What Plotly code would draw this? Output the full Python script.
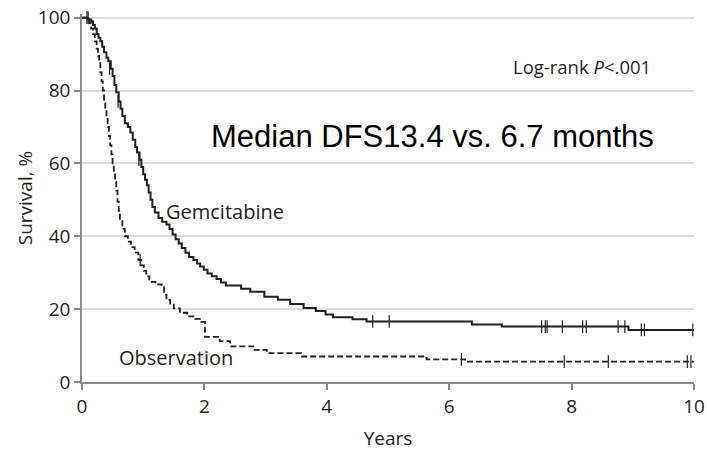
import plotly.graph_objects as go

# ---- data ----
gem_t = [0, 0.1, 0.15, 0.18, 0.21, 0.24, 0.27, 0.3, 0.33, 0.36, 0.4, 0.43, 0.47, 0.5, 0.53, 0.56,
         0.6, 0.63, 0.66, 0.7, 0.75, 0.79, 0.83, 0.87, 0.9, 0.94, 0.97, 1.0, 1.03, 1.06, 1.09, 1.12,
         1.15, 1.19, 1.25, 1.31, 1.38, 1.43, 1.48, 1.53, 1.58, 1.63, 1.69, 1.75, 1.82, 1.88, 1.93,
         1.99, 2.05, 2.12, 2.2, 2.27, 2.35, 2.6, 2.75, 2.98, 3.2, 3.4, 3.62, 3.82, 3.98, 4.1, 4.42,
         4.65, 6.37, 6.86, 8.93, 10.0]
gem_s = [100, 99.5, 99, 98, 97, 95.5, 94.5, 93.5, 92, 90.5, 89, 88, 86, 84, 81.5, 79.5,
         77, 75, 73, 71, 70, 68.5, 66.5, 64.5, 63, 61, 59, 57, 55.5, 54, 52, 50,
         48, 46.5, 45, 44, 43.2, 42, 40.5, 39.2, 38, 36.8, 35.5, 34.3, 33.5, 32.5, 31.7,
         30.8, 29.8, 29, 28.3, 27.3, 26.5, 25.6, 24.8, 23.4, 22.6, 21.4, 20.3, 19.5, 18.5, 17.8, 17.2,
         16.6, 15.8, 15.2, 14.3, 14.3]
gem_cens_t = [0.08, 0.45, 0.59, 0.93, 4.75, 5.02, 7.51, 7.57, 7.6, 7.85, 8.18, 8.24, 8.76, 8.87,
              9.14, 9.19, 9.98]
gem_cens_s = [100, 86, 77, 61, 16.6, 16.6, 15.2, 15.2, 15.2, 15.2, 15.2, 15.2, 15.2, 15.2,
              14.3, 14.3, 14.3]

obs_t = [0, 0.08, 0.12, 0.15, 0.18, 0.21, 0.24, 0.26, 0.28, 0.30, 0.32, 0.34, 0.36, 0.38, 0.40,
         0.42, 0.44, 0.46, 0.48, 0.5, 0.52, 0.54, 0.56, 0.58, 0.6, 0.62, 0.66, 0.7, 0.75, 0.8, 0.86,
         0.92, 0.97, 1.01, 1.05, 1.1, 1.2, 1.3, 1.34, 1.38, 1.44, 1.5, 1.6, 1.72, 1.85, 1.95, 2.01,
         2.25, 2.42, 2.8, 3.02, 3.58, 5.63, 6.26, 10.0]
obs_s = [100, 99.5, 98.5, 97, 95.5, 93.5, 91.5, 89.5, 87.5, 85, 82.5, 80, 77.5, 75, 72.5,
         70, 67.5, 65, 62.5, 60, 57.5, 55, 52.5, 49.5, 47, 44.5, 42, 40, 38.5, 37, 35.5,
         33.5, 32, 30.5, 29, 27.5, 26.8, 26, 24, 22.5, 21.2, 20.2, 19, 18, 17.3, 16.5, 12.4,
         11.2, 9.8, 8.8, 7.9, 7.0, 6.2, 5.6, 5.6]
obs_cens_t = [0.1, 0.95, 6.2, 7.88, 8.6, 9.89, 9.95]
obs_cens_s = [100, 33.5, 6.2, 5.6, 5.6, 5.6, 5.6]

x_ticks = [0, 2, 4, 6, 8, 10]
y_ticks = [0, 20, 40, 60, 80, 100]

INK = "#231f20"
FONT = "Open Sans"

fig = go.Figure()
fig.add_trace(go.Scatter(x=gem_t, y=gem_s, mode="lines", line_shape="hv",
                         line=dict(color=INK, width=2), showlegend=False))
fig.add_trace(go.Scatter(x=obs_t, y=obs_s, mode="lines", line_shape="hv",
                         line=dict(color=INK, width=1.8, dash="6px,3px"), showlegend=False))
fig.add_trace(go.Scatter(x=gem_cens_t, y=gem_cens_s, mode="markers", cliponaxis=False,
                         marker=dict(symbol="line-ns-open", size=9, color=INK,
                                     line=dict(color=INK, width=1.2)),
                         showlegend=False))
fig.add_trace(go.Scatter(x=obs_cens_t, y=obs_cens_s, mode="markers", cliponaxis=False,
                         marker=dict(symbol="line-ns-open", size=9, color=INK,
                                     line=dict(color=INK, width=1.2)),
                         showlegend=False))

fig.add_annotation(x=8.17, y=86.7, text="Log-rank <i>P</i><.001", showarrow=False,
                   font=dict(family=FONT, size=18.5, color=INK))
fig.add_annotation(x=5.72, y=67.3, text="Median DFS13.4 vs. 6.7 months", showarrow=False,
                   font=dict(family="Liberation Sans, Arial", size=31, color="#000000"))
fig.add_annotation(x=2.34, y=46.8, text="Gemcitabine", showarrow=False,
                   font=dict(family=FONT, size=20, color=INK))
fig.add_annotation(x=1.54, y=6.8, text="Observation", showarrow=False,
                   font=dict(family=FONT, size=20, color=INK))

fig.update_xaxes(range=[0, 10], tickvals=x_ticks, ticktext=[str(v) for v in x_ticks],
                 automargin=False,
                 showgrid=False, zeroline=False, showline=True, linecolor="#8a8a8a", linewidth=1.5,
                 ticks="outside", ticklen=6, tickcolor="#8a8a8a", tickwidth=1.5,
                 tickfont=dict(family=FONT, size=19, color=INK),
                 title=dict(text="Years", font=dict(family=FONT, size=19, color=INK), standoff=15))
fig.update_yaxes(range=[0, 101], tickvals=y_ticks, ticktext=[str(v) for v in y_ticks],
                 automargin=False,
                 showgrid=True, gridcolor="#dedede", gridwidth=1.5, zeroline=False,
                 showline=True, linecolor="#8a8a8a", linewidth=1.5,
                 ticks="outside", ticklen=6, tickcolor="#8a8a8a", tickwidth=1.5,
                 tickfont=dict(family=FONT, size=19, color=INK),
                 title=dict(text="Survival, %", font=dict(family=FONT, size=19, color=INK), standoff=0))

fig.update_layout(width=707, height=451, margin=dict(l=82, r=13, t=14, b=69),
                  plot_bgcolor="white", paper_bgcolor="white")

fig.write_html("out.html")
